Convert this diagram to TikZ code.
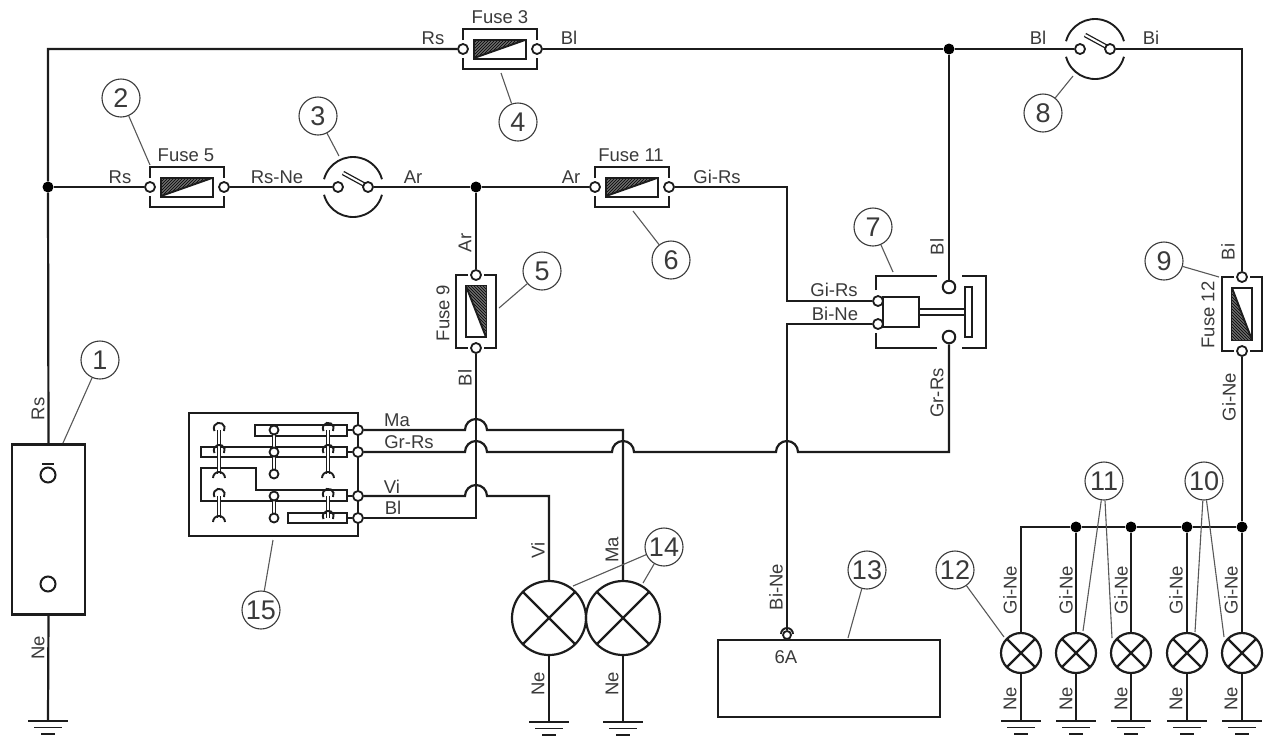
\documentclass[tikz,border=0pt]{standalone}
\usepackage{fontspec}
\setmainfont{Liberation Sans}
\usetikzlibrary{patterns}
\definecolor{inkdark}{HTML}{1C1C1C}
\definecolor{textdark}{HTML}{3A3A3A}
\begin{document}
\begin{tikzpicture}[x=1pt, y=-1pt]
        % Define block styles
        \tikzstyle{wire} = [draw=inkdark, line width=2.2pt]
        \tikzstyle{thinpart} = [draw=inkdark, line width=1.9pt]
        \tikzstyle{twinline} = [draw=inkdark, line width=1.3pt, double=white, double distance=2pt]
        \tikzstyle{leader} = [draw=textdark!85, line width=1.1pt]
        \tikzstyle{hatch} = [pattern=north east lines, pattern color=black]
        \tikzstyle{term} = [circle, draw=inkdark, line width=1.8pt, fill=white, minimum size=10pt, inner sep=0pt]
        \tikzstyle{bigterm} = [term, line width=2pt, minimum size=12.5pt]
        \tikzstyle{ringterm} = [term, line width=2pt, minimum size=15pt]
        \tikzstyle{junc} = [circle, fill=black, minimum size=11pt, inner sep=0pt]
        \tikzstyle{callout} = [circle, draw=textdark, line width=1.1pt, fill=white, minimum size=38pt, inner sep=0pt, font=\fontsize{27}{27}\selectfont, text=textdark]
        \tikzstyle{wirelabel} = [inner sep=0pt, font=\fontsize{18.5}{18.5}\selectfont, text=textdark]
        \tikzstyle{lamp} = [circle, wire, inner sep=0pt, path picture={
            \draw[wire] (path picture bounding box.north west) -- (path picture bounding box.south east);
            \draw[wire] (path picture bounding box.north east) -- (path picture bounding box.south west);}]
        \tikzstyle{bigbox} = [rectangle, wire, inner sep=0pt]
        \useasboundingbox (0,0) rectangle (1276,748);

        % Battery and load box
        \node[bigbox, minimum width=73pt, minimum height=170pt] (battery) at (48.5,529.5) {};
        \node[ringterm] (batA) at (48,475) {};
        \node[ringterm] (batB) at (48,584) {};
        \draw[thinpart] (42,464) -- (54,464);
        \node[bigbox, minimum width=222pt, minimum height=77pt] (ecu) at (829,678.5) {};
        \node[term, minimum size=8pt] (ecuPin) at (787,635) {};
        \draw[thinpart] (781,634) arc (180:360:6);

        % Horizontal fuses
        \foreach \name/\x/\y in {fuseC/463/49, fuseE/150/187, fuseK/595/187} {
            \begin{scope}[shift={(\x,\y)}]
                \draw[wire] (0,-9) -- (0,-20) -- (74,-20) -- (74,-9);
                \draw[wire] (0,9) -- (0,20) -- (74,20) -- (74,9);
                \fill[inkdark!65] (11,-9) -- (62,-9) -- (11,9) -- cycle;
                \fill[hatch] (11,-9) -- (62,-9) -- (11,9) -- cycle;
                \draw[thinpart] (11,9) -- (62,-9);
                \draw[wire] (11,-9) rectangle (63,10);
                \node[term] (\name a) at (0,0) {};
                \node[term] (\name b) at (74,0) {};
            \end{scope}
        }

        % Vertical fuses
        \foreach \name/\x/\y/\h in {fuseI/476/275/73, fuseL/1242/277/74} {
            \begin{scope}[shift={(\x,\y)}]
                \draw[wire] (-8,0) -- (-20,0) -- (-20,\h) -- (-8,\h);
                \draw[wire] (8,0) -- (20,0) -- (20,\h) -- (8,\h);
                \draw[wire] (-10,11) rectangle (10,\h-11);
                \node[term] (\name a) at (0,0) {};
                \node[term] (\name b) at (0,\h) {};
            \end{scope}
        }
        \fill[inkdark!65] (466,286) -- (486,286) -- (486,337) -- cycle;
        \fill[pattern=north west lines, pattern color=black] (466,286) -- (486,286) -- (486,337) -- cycle;
        \draw[thinpart] (466,286) -- (486,337);
        \fill[inkdark!65] (1232,288) -- (1232,340) -- (1252,340) -- cycle;
        \fill[pattern=north west lines, pattern color=black] (1232,288) -- (1232,340) -- (1252,340) -- cycle;
        \draw[thinpart] (1232,288) -- (1252,340);

        % Key switches
        \foreach \name/\x/\y in {swA/353/187, swB/1095/49} {
            \begin{scope}[shift={(\x,\y)}]
                \draw[thinpart] (195:30) arc (195:345:30);
                \draw[thinpart] (165:30) arc (165:15:30);
                \draw[twinline] (-10,-14) -- (12,-2);
                \node[term] (\name a) at (-15,0) {};
                \node[term] (\name b) at (15,0) {};
            \end{scope}
        }

        % Relay
        \draw[wire] (876,290) -- (876,276) -- (937,276);
        \draw[wire] (962,276) -- (986,276) -- (986,348) -- (962,348);
        \draw[wire] (937,348) -- (876,348) -- (876,333);
        \node[rectangle, wire, minimum width=36pt, minimum height=30pt, inner sep=0pt] (coil) at (901,312) {};
        \node[rectangle, thinpart, minimum width=7pt, minimum height=50pt, inner sep=0pt] (plate) at (968.5,312) {};
        \draw[twinline, double distance=4.5pt] (coil.east) -- (plate.west);
        \node[term] (coilA) at (878,301) {};
        \node[term] (coilB) at (878,324) {};
        \node[bigterm] (relayA) at (949,287) {};
        \node[bigterm] (relayB) at (949,337) {};

        % Light switch block
        \draw[wire] (189,413) rectangle (358,536);
        \foreach \name/\y in {Ma/430, Gr/452, Vi/496, Bl/518} {
            \node[term] (out\name) at (358,\y) {};
        }
        \draw[thinpart] (255,425) rectangle (347,436);
        \draw[thinpart] (201,447) rectangle (347,457);
        \draw[thinpart] (347,490) -- (256,490) -- (256,468) -- (201,468) -- (201,501) -- (347,501) -- cycle;
        \draw[thinpart] (288,513) rectangle (347,523);
        \foreach \name/\y in {Ma/430, Gr/452, Vi/496, Bl/518} {
            \draw[thinpart] (347,\y) -- (out\name);
        }
        \foreach \x in {219,274,328} {
            \draw[twinline] (\x,430) -- (\x,474);
            \draw[twinline] (\x,496) -- (\x,518);
        }
        \foreach \y in {430,452,474,496,518} {
            \node[term, minimum size=9pt] (cam\y) at (274,\y) {};
        }
        \foreach \x/\y in {219/430, 219/452, 219/496, 328/430, 328/452, 328/496, 328/518} {
            \draw[thinpart] (\x+5,\y+1) arc (30:-210:5.5);
        }
        \foreach \x/\y in {219/474, 328/474, 219/518} {
            \draw[thinpart] (\x-6,\y+4) arc (180:360:6);
        }

        % Lamps
        \node[lamp, minimum size=74pt] (lampA) at (549,618) {};
        \node[lamp, minimum size=74pt] (lampB) at (623,618) {};
        \foreach \name/\x in {lampC/1021, lampD/1076, lampE/1131, lampF/1187, lampG/1242} {
            \node[lamp, minimum size=40pt] (\name) at (\x,653) {};
        }

        % Junctions and corners
        \node[junc] (jLeft) at (48,187) {};
        \node[junc] (jMid) at (476,187) {};
        \node[junc] (jTop) at (949,49) {};
        \node[junc] (jD) at (1076,527) {};
        \node[junc] (jE) at (1131,527) {};
        \node[junc] (jF) at (1187,527) {};
        \node[junc] (jG) at (1242,527) {};
        \coordinate (cornerTL) at (48,49);
        \coordinate (cornerTR) at (1242,49);
        \coordinate (cornerK) at (787,187);
        \coordinate (cornerGi) at (787,301);
        \coordinate (cornerBi) at (787,324);
        \coordinate (cornerC) at (1021,527);
        \coordinate (cornerGr) at (949,452);
        \coordinate (cornerMa) at (623,430);
        \coordinate (cornerVi) at (549,496);
        \coordinate (cornerBl) at (476,518);
        \coordinate (hopMa) at (465,430);
        \coordinate (hopVi) at (465,496);
        \coordinate (hopGrA) at (798,452);
        \coordinate (hopGrB) at (634,452);
        \coordinate (hopGrC) at (487,452);

        % Earth points
        \foreach \name/\x/\y in {gBat/48/721, gA/549/722, gB/623/722, gC/1021/721, gD/1076/721, gE/1131/721, gF/1187/721, gG/1242/721} {
            \coordinate (\name) at (\x,\y);
            \draw[thinpart] (\x-20,\y) -- (\x+20,\y);
            \draw[thinpart] (\x-14,\y+6.5) -- (\x+14,\y+6.5);
            \draw[thinpart] (\x-7,\y+13) -- (\x+7,\y+13);
        }

        % Wires
        \draw[wire] (battery.north) -- (jLeft) -- (cornerTL) -- (fuseCa);
        \draw[wire] (fuseCb) -- (jTop) -- (swBa);
        \draw[wire] (swBb) -- (cornerTR) -- (fuseLa);
        \draw[wire] (jLeft) -- (fuseEa);
        \draw[wire] (fuseEb) -- (swAa);
        \draw[wire] (swAb) -- (jMid) -- (fuseKa);
        \draw[wire] (fuseKb) -- (cornerK) -- (cornerGi) -- (coilA);
        \draw[wire] (jMid) -- (fuseIa);
        \draw[wire] (jTop) -- (relayA);
        \draw[wire] (coilB) -- (cornerBi) -- (ecuPin);
        \draw[wire] (fuseIb) -- (cornerBl) -- (outBl);
        \draw[wire] (outMa) -- (hopMa) arc (180:360:11) -- (cornerMa) -- (lampB);
        \draw[wire] (outVi) -- (hopVi) arc (180:360:11) -- (cornerVi) -- (lampA);
        \draw[wire] (relayB) -- (cornerGr) -- (hopGrA) arc (0:-180:11) -- (hopGrB) arc (0:-180:11) -- (hopGrC) arc (0:-180:11) -- (outGr);
        \draw[wire] (fuseLb) -- (jG) -- (lampG);
        \draw[wire] (jG) -- (jF) -- (jE) -- (jD) -- (cornerC) -- (lampC);
        \draw[wire] (jD) -- (lampD);
        \draw[wire] (jE) -- (lampE);
        \draw[wire] (jF) -- (lampF);
        \draw[wire] (battery.south) -- (gBat);
        \draw[wire] (lampA) -- (gA);
        \draw[wire] (lampB) -- (gB);
        \draw[wire] (lampC) -- (gC);
        \draw[wire] (lampD) -- (gD);
        \draw[wire] (lampE) -- (gE);
        \draw[wire] (lampF) -- (gF);
        \draw[wire] (lampG) -- (gG);

        % Callouts
        \foreach \n/\x/\y in {1/100/360, 2/121/98, 3/318/116, 4/518/122, 5/542/271, 6/671/260, 7/873/227, 8/1043/113, 9/1164/261, 10/1204/481, 11/1104/481, 12/955/570, 13/867/570, 14/664/547, 15/261/610} {
            \node[callout] (tag\n) at (\x,\y) {\n};
        }
        \foreach \n/\tip/\x/\y in {1/a/63/443, 2/a/150/165, 3/a/339/156, 4/a/501/73, 5/a/499/308, 6/a/633/211, 7/a/893/272, 8/a/1073/76, 9/a/1219/277, 10/a/1195/632, 10/b/1224/637, 11/a/1083/631, 11/b/1112/638, 12/a/1004/637, 13/a/848/638, 14/a/573/586, 14/b/643/583, 15/a/273/540} {
            \coordinate (tip\n\tip) at (\x,\y);
            \draw[leader] (tag\n) -- (tip\n\tip);
        }

        % Horizontal labels
        \foreach \txt/\x/\y [count=\i] in {Fuse 3/500/17, Fuse 5/186/155, Fuse 11/631/155, Rs/433/38, Bl/569/38, Bl/1038/38, Bi/1151/38, Rs/120/177, Rs-Ne/277/177, Ar/413/177, Ar/571/177, Gi-Rs/717/177, Gi-Rs/834/290, Bi-Ne/835/314, Ma/397/420, Gr-Rs/409/442, Vi/392/487, Bl/393/508, 6A/786/657} {
            \node[wirelabel] (flat\i) at (\x,\y) {\txt};
        }

        % Rotated labels
        \foreach \txt/\x/\y [count=\i] in {Rs/38/409, Ne/38/648, Ar/465/243, Fuse 9/443/313, Bl/465/378, Bl/937/247, Gr-Rs/937/393, Bi/1228/252, Fuse 12/1208/315, Gi-Ne/1229/397, Vi/538/550, Ma/612/550, Ne/538/684, Ne/612/684, Bi-Ne/776/587, Gi-Ne/1010/590, Gi-Ne/1066/590, Gi-Ne/1121/590, Gi-Ne/1176/590, Gi-Ne/1231/590, Ne/1010/699, Ne/1066/699, Ne/1121/699, Ne/1176/699, Ne/1231/699} {
            \node[wirelabel, rotate=90] (up\i) at (\x,\y) {\txt};
        }

    \end{tikzpicture}
\end{document}
